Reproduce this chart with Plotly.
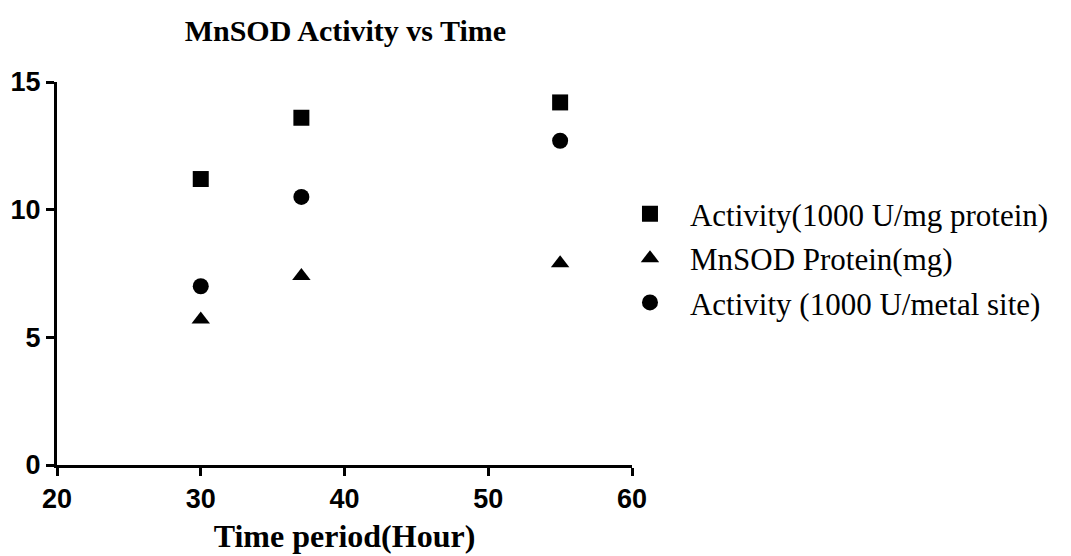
import plotly.graph_objects as go

# Sampling times (hours)
hours = [30, 37, 55]

# Measured series
activity_per_mg = [11.2, 13.6, 14.2]      # Activity (1000 U/mg protein)
mnsod_protein = [5.7, 7.4, 7.9]           # MnSOD Protein (mg)
activity_per_site = [7.0, 10.5, 12.7]     # Activity (1000 U/metal site)

series = [
    ("Activity(1000 U/mg protein)", activity_per_mg, "square"),
    ("MnSOD Protein(mg)", mnsod_protein, "triangle-up"),
    ("Activity (1000 U/metal site)", activity_per_site, "circle"),
]

fig = go.Figure()
for i, (name, vals, sym) in enumerate(series):
    fig.add_trace(go.Scatter(
        x=hours, y=vals, mode="markers", name=name,
        legendgroup=f"g{i}",
        marker=dict(symbol=sym, size=16, color="black", line=dict(width=0)),
    ))

tick_font = dict(family="Liberation Sans, Arial, sans-serif", size=27, color="black", weight="bold")
serif_bold = dict(family="Liberation Serif, Times New Roman, serif", color="black", weight="bold")

fig.update_layout(
    width=1071, height=556,
    margin=dict(l=57, r=439, t=82, b=91),
    paper_bgcolor="white", plot_bgcolor="white",
    title=dict(text="MnSOD Activity vs Time", x=0.3225, xanchor="center",
               y=0.945, yanchor="middle", font=dict(size=30, **serif_bold)),
    showlegend=True,
    legend=dict(x=0.9617, xanchor="left", y=0.54, yanchor="middle",
                font=dict(family="Liberation Serif, Times New Roman, serif", size=31, color="black"),
                tracegroupgap=1, itemwidth=70, bgcolor="rgba(0,0,0,0)"),
)

fig.update_xaxes(
    range=[20, 60], tickvals=[20, 30, 40, 50, 60],
    showline=True, linecolor="black", linewidth=3, mirror=False,
    ticks="outside", ticklen=8, tickwidth=3, tickcolor="black",
    showgrid=False, zeroline=False, tickfont=tick_font, automargin=False,
    title=dict(text="Time period(Hour)", font=dict(size=32, **serif_bold), standoff=12),
)
fig.update_yaxes(
    range=[0, 15], tickvals=[0, 5, 10, 15],
    showline=True, linecolor="black", linewidth=3, mirror=False,
    ticks="outside", ticklen=8, tickwidth=3, tickcolor="black",
    showgrid=False, zeroline=False, tickfont=tick_font, automargin=False,
)

fig.write_html("out.html")
